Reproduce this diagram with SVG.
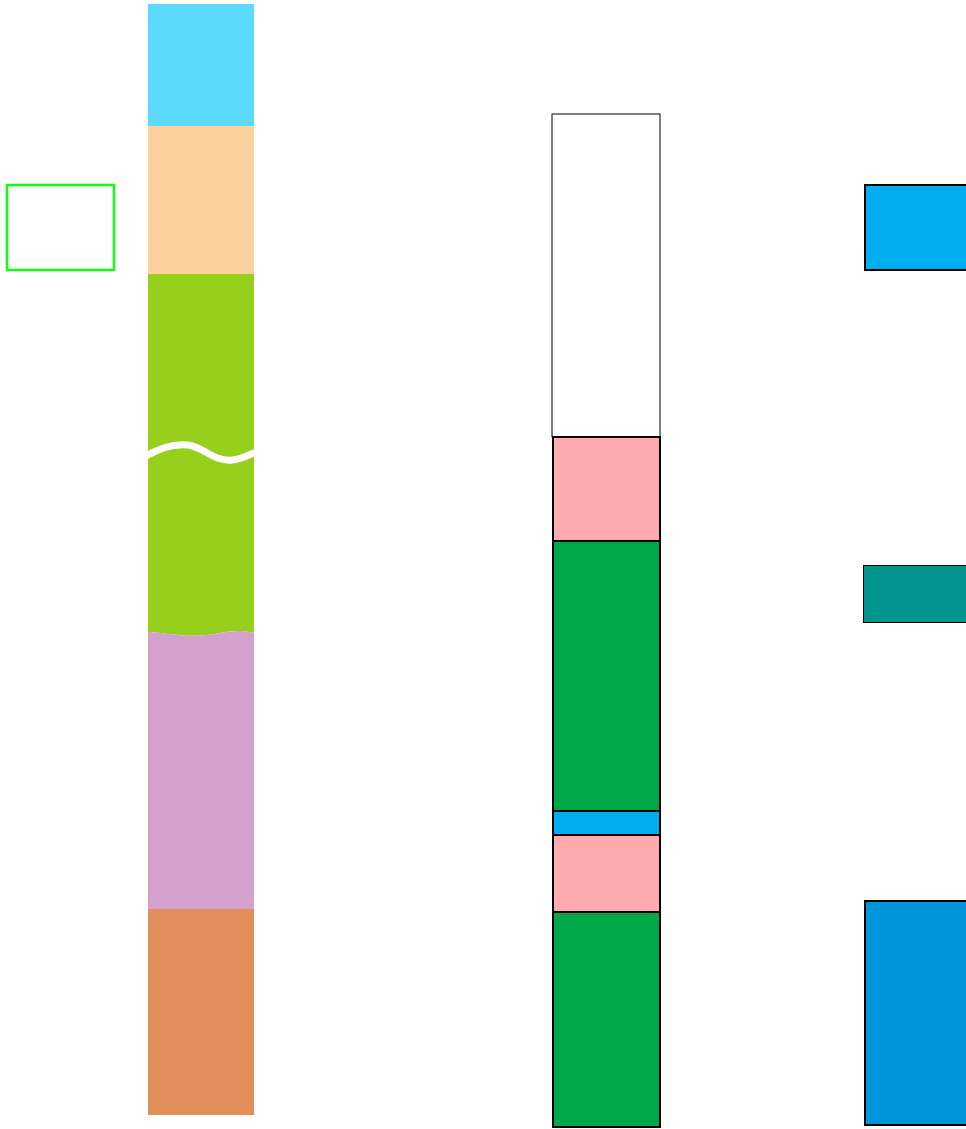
<svg xmlns="http://www.w3.org/2000/svg" width="966" height="1129" viewBox="0 0 966 1129">
<style>
.seg{stroke:none}
.box{stroke:#000;stroke-width:2}
</style>
<rect width="966" height="1129" fill="#fff"/>
<g id="left-column">
<rect class="seg" x="148" y="4" width="106" height="122" fill="#5BDAFB"/>
<rect class="seg" x="148" y="126" width="106" height="149" fill="#FDD19E"/>
<path class="seg" d="M148,274 H254 V633 C240,630 232,631 220,633 C205,636 190,637 170,634 C160,633 154,632 148,632 Z" fill="#96D01D"/>
<path class="seg" d="M148,632 C154,632 160,633 170,634 C190,637 205,636 220,633 C232,631 240,630 254,633 V910 H148 Z" fill="#D4A1CE"/>
<rect class="seg" x="148" y="909" width="106" height="206" fill="#E28E5A"/>
<path d="M146,456 C158,449 172,443 188,445 C204,447 214,462 232,460 C242,459 248,455 256,452" fill="none" stroke="#fff" stroke-width="7"/>
</g>
<g id="legend-box">
<rect x="7" y="185" width="107" height="85" fill="#fff" stroke="#10FF10" stroke-width="2.5"/>
</g>
<g id="middle-column">
<rect x="552" y="114" width="108" height="323" fill="#fff" stroke="#000" stroke-width="1"/>
<rect class="box" x="553" y="437" width="107" height="104" fill="#FFABB0"/>
<rect class="box" x="553" y="541" width="107" height="270" fill="#00A84A"/>
<rect class="box" x="553" y="811" width="107" height="24" fill="#00AEEF"/>
<rect class="box" x="553" y="835" width="107" height="77" fill="#FFABB0"/>
<rect class="box" x="553" y="912" width="107" height="215" fill="#00A84A"/>
</g>
<g id="right-column">
<rect class="box" x="865" y="185" width="110" height="85" fill="#00AEEF"/>
<rect x="863.5" y="565.5" width="110" height="57" fill="#00968F" stroke="#000" stroke-width="1"/>
<rect class="box" x="865" y="901" width="110" height="224" fill="#0095DA"/>
</g>
<g id="connectors"></g>
</svg>
